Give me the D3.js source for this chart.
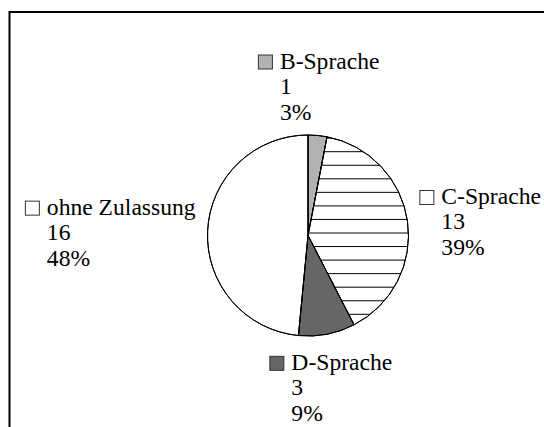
<!DOCTYPE html>
<html>
<head>
<meta charset="utf-8">
<script src="https://cdn.jsdelivr.net/npm/d3@7"></script>
<style>
  html, body { margin: 0; padding: 0; background: #fff; }
  svg { display: block; }
</style>
</head>
<body>
<svg></svg>
<script>
// data
const categories = ["B-Sprache", "C-Sprache", "D-Sprache", "ohne Zulassung"];
const counts = [1, 13, 3, 16];
const fills = ["#b2b2b2", "hatch", "#666666", "#ffffff"];

const width = 544;
const height = 427;
const cx = 308, cy = 235.5, radius = 100.5;
const lineH = 25.5;

const svg = d3.select("svg")
    .attr("width", width)
    .attr("height", height);

// outer frame (cut off at right and bottom, like the source)
svg.append("rect")
    .attr("x", 9.5).attr("y", 12)
    .attr("width", 700).attr("height", 600)
    .attr("fill", "none")
    .attr("stroke", "#000")
    .attr("stroke-width", 2);

const total = d3.sum(counts);
const data = categories.map((c, i) => ({name: c, count: counts[i], fill: fills[i]}));

const pie = d3.pie().sort(null).value(d => d.count);
const arc = d3.arc().innerRadius(0).outerRadius(radius);
const arcs = pie(data);

const defs = svg.append("defs");
const g = svg.append("g").attr("transform", `translate(${cx},${cy})`);

g.selectAll("path.slice")
  .data(arcs)
  .enter()
  .append("path")
    .attr("class", "slice")
    .attr("d", arc)
    .attr("fill", d => d.data.fill === "hatch" ? "#fff" : d.data.fill)
    .attr("stroke", "#000")
    .attr("stroke-width", 1);

// horizontal hatch lines in absolute page coords
const hatchY = d3.range(151.7 - 13.55 * 12, 440, 13.55);
function hatch(clipId) {
  svg.append("g")
    .attr("clip-path", `url(#${clipId})`)
    .selectAll("line")
    .data(hatchY)
    .enter()
    .append("line")
      .attr("x1", 0).attr("x2", width)
      .attr("y1", d => d).attr("y2", d => d)
      .attr("stroke", "#000")
      .attr("stroke-width", 1);
}

arcs.forEach((d, i) => {
  if (d.data.fill !== "hatch") return;
  defs.append("clipPath").attr("id", "clip-slice-" + i)
    .append("path")
      .attr("transform", `translate(${cx},${cy})`)
      .attr("d", arc(d));
  hatch("clip-slice-" + i);
});

// redraw slice outlines on top of hatching
g.selectAll("path.outline")
  .data(arcs)
  .enter()
  .append("path")
    .attr("d", arc)
    .attr("fill", "none")
    .attr("stroke", "#000")
    .attr("stroke-width", 1);

// data labels: marker + name, count, percent
const pct = d3.format(".0%");
const markerSize = 15;
const textDx = 22;

arcs.forEach((d, i) => {
  const mid = (d.startAngle + d.endAngle) / 2;
  const s = Math.sin(mid), c = Math.cos(mid);
  const gap = c < -0.5 ? 20 : 12;
  const px = cx + (radius + gap) * s;
  const py = cy - (radius + gap) * c;

  const lg = svg.append("g");
  const lines = [d.data.name, String(d.data.count), pct(d.data.count / total)];
  const txt = lg.selectAll("text")
    .data(lines)
    .enter()
    .append("text")
      .attr("x", textDx)
      .attr("y", (t, j) => j * lineH)
      .attr("font-family", "Liberation Serif")
      .attr("font-size", 23.6)
      .attr("fill", "#000")
      .text(t => t);

  lg.append("rect")
    .attr("x", 0.5).attr("y", -13.5)
    .attr("width", markerSize - 1).attr("height", markerSize - 1)
    .attr("fill", d.data.fill === "hatch" ? "#fff" : d.data.fill)
    .attr("stroke", "#333")
    .attr("stroke-width", 1);

  const w = textDx + d3.max(txt.nodes(), n => n.getComputedTextLength());
  const top = -16, bottom = 2 * lineH + 4;
  const h = bottom - top;

  let x0, y0;
  if (Math.abs(s) > 0.7) {
    x0 = s > 0 ? px : px - w;
    y0 = py - h / 2 - top + 4;
  } else {
    x0 = px - w / 2;
    y0 = c > 0 ? py - bottom : py - top;
  }
  lg.attr("transform", `translate(${x0},${y0})`);

  if (d.data.fill === "hatch") {
    defs.append("clipPath").attr("id", "clip-marker-" + i)
      .append("rect")
        .attr("x", x0 + 0.5).attr("y", y0 - 13.5)
        .attr("width", markerSize - 1).attr("height", markerSize - 1);
    hatch("clip-marker-" + i);
    lg.raise();
  }
});
</script>
</body>
</html>
